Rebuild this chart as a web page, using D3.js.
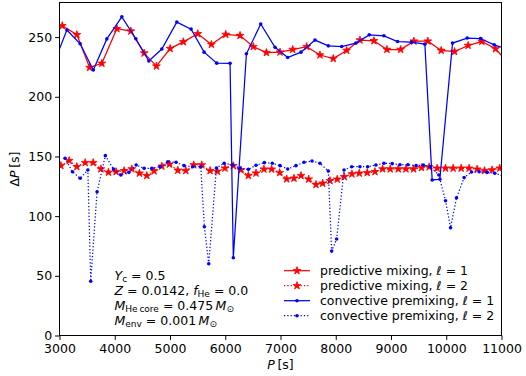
<!DOCTYPE html>
<html>
<head>
<meta charset="UTF-8">
<title>Period spacing</title>
<script src="https://cdn.jsdelivr.net/npm/d3@7"></script>
<style>
    body { margin: 0; background: #fff; }
    svg text { font-family: "DejaVu Sans", sans-serif; fill: #000; }
    .axis text { font-size: 12.5px; }
    .axis line { stroke: #000; stroke-width: 1px; }
</style>
</head>
<body>
<svg id="chart" width="526" height="376"></svg>
<script>
// predictive mixing, l = 1
const predP1 = [3050, 3315, 3545, 3767, 4038, 4291, 4532, 4754, 5002, 5242, 5503, 5749, 6009, 6268, 6508, 6745, 6991, 7221, 7474, 7714, 7955, 8197, 8438, 8691, 8926, 9174, 9414, 9667, 9908, 10150, 10396, 10644, 10892, 11130];
const predDP1 = [259.5, 252, 224.5, 228, 257, 255, 236.6, 225.7, 240.4, 246, 252.8, 243.8, 252.2, 251.3, 242, 237, 237.4, 239.6, 242, 235, 232, 238.8, 247.5, 246.9, 239.6, 239.6, 246.6, 246.6, 238.8, 237.9, 243, 246.3, 240.2, 228];

// predictive mixing, l = 2
const predP2 = [3025, 3175, 3314, 3465, 3610, 3749, 3886, 4025, 4170, 4309, 4447, 4580, 4712, 4852, 4989, 5141, 5286, 5430, 5575, 5725, 5857, 5996, 6146, 6283, 6418, 6557, 6700, 6840, 6985, 7112, 7244, 7371, 7510, 7642, 7763, 7895, 8027, 8154, 8293, 8425, 8570, 8709, 8848, 8986, 9131, 9270, 9409, 9553, 9691, 9836, 9987, 10125, 10270, 10414, 10559, 10692, 10830, 10969];
const predDP2 = [142.3, 146.5, 141.4, 144.8, 144.8, 139.5, 136.7, 137.2, 138, 139.5, 135.9, 133.9, 137.8, 141.8, 143.5, 138.4, 138.1, 142.9, 142.9, 138.1, 137.5, 140.2, 142.2, 138.7, 134, 136, 139.3, 139.3, 136.4, 131.1, 131.7, 133.9, 130.9, 126.4, 127.5, 129.7, 130.9, 133, 135.3, 135.9, 136.4, 137.2, 139.5, 139.5, 139.5, 139.5, 139.5, 140.6, 141.2, 140.1, 140.1, 140.1, 140.1, 140.1, 139.3, 138.1, 138.7, 140.1];

// convective premixing, l = 1
const convP1 = [2880, 3134, 3374, 3612, 3857, 4128, 4382, 4617, 4852, 5123, 5382, 5617, 5846, 6087, 6146, 6383, 6642, 6901, 7130, 7371, 7624, 7865, 8107, 8365, 8606, 8872, 9119, 9372, 9613, 9745, 9884, 10114, 10378, 10620, 10866, 11110];
const convDP1 = [226, 256, 244.4, 222.5, 248.5, 267, 248.6, 230, 240, 262.6, 256.7, 237.4, 228.2, 228, 65.1, 236, 261, 241.5, 232.9, 237.4, 247.5, 242.7, 242.1, 245, 251.9, 251.1, 246.3, 245.8, 244.1, 130.3, 130.9, 245, 249.2, 248.8, 243.5, 240];

// convective premixing, l = 2
const convP2 = [3100, 3235, 3374, 3513, 3565, 3680, 3830, 3977, 4110, 4255, 4387, 4532, 4671, 4821, 4960, 5110, 5255, 5412, 5557, 5622, 5701, 5840, 5980, 6136, 6268, 6418, 6557, 6708, 6852, 6991, 7130, 7280, 7425, 7570, 7714, 7865, 7926, 8016, 8150, 8288, 8438, 8577, 8727, 8872, 9022, 9161, 9306, 9455, 9585, 9710, 9866, 9987, 10078, 10186, 10324, 10457, 10595, 10740, 10879, 11018];
const convDP2 = [148.5, 137.2, 131.7, 138.7, 45.5, 120.5, 150.7, 139.4, 134.5, 136.7, 142.9, 140.1, 140.1, 141.4, 145.6, 145.1, 142.3, 141.4, 141.4, 91.1, 60.1, 140.4, 144.3, 142.9, 140.1, 139.2, 142.6, 144.8, 144.3, 142.3, 139.5, 142.3, 145.1, 146.2, 144.3, 137.8, 70.7, 80.8, 138.7, 141.4, 141.4, 141.4, 142.9, 144.3, 144, 143.1, 143.1, 142.3, 142.9, 141.4, 134.5, 112.9, 90.3, 115.4, 132.3, 137, 137.2, 136.7, 135.9, 134];

const xTicks = [3000, 4000, 5000, 6000, 7000, 8000, 9000, 10000, 11000];
const yTicks = [0, 50, 100, 150, 200, 250];
const seriesNames = ["predictive mixing", "predictive mixing", "convective premixing", "convective premixing"];
const seriesEll = [1, 2, 1, 2];

// Series in drawing order (blue is on top of red)
const series = [
    { P: predP1, dP: predDP1, color: "#ff0000", dotted: false, marker: "star" },
    { P: predP2, dP: predDP2, color: "#ff0000", dotted: true, marker: "star" },
    { P: convP1, dP: convDP1, color: "#0000ff", dotted: false, marker: "dot" },
    { P: convP2, dP: convDP2, color: "#0000ff", dotted: true, marker: "dot" }
].map((s, i) => ({ ...s, name: seriesNames[i], ell: seriesEll[i] }));

const svg = d3.select("#chart");
const plot = { left: 59.5, right: 501.5, top: 2.5, bottom: 335.5 };

const x = d3.scaleLinear().domain([3000, 11000]).range([plot.left, plot.right]);
const y = d3.scaleLinear().domain([0, 279]).range([plot.bottom, plot.top]);

svg.append("defs").append("clipPath").attr("id", "clip")
    .append("rect")
    .attr("x", plot.left).attr("y", plot.top)
    .attr("width", plot.right - plot.left).attr("height", plot.bottom - plot.top);

const starPath = d3.symbol(d3.symbolStar, 19)();
const lineGen = d3.line().x(d => x(d[0])).y(d => y(d[1]));

function drawMarker(sel, s) {
    if (s.marker === "star") {
        sel.append("path").attr("d", starPath)
            .attr("fill", s.color).attr("stroke", s.color).attr("stroke-width", 0.8)
            .attr("stroke-linejoin", "miter");
    } else {
        sel.append("circle").attr("r", 1.8).attr("fill", s.color);
    }
}

const dataG = svg.append("g").attr("clip-path", "url(#clip)");
series.forEach(s => {
    const pts = s.P.map((p, i) => [p, s.dP[i]]);
    dataG.append("path")
        .attr("d", lineGen(pts))
        .attr("fill", "none")
        .attr("stroke", s.color)
        .attr("stroke-width", 1.25)
        .attr("stroke-dasharray", s.dotted ? "1.25,2.06" : null);
    dataG.append("g").selectAll("g")
        .data(pts)
        .join("g")
        .attr("transform", d => `translate(${x(d[0])},${y(d[1])})`)
        .each(function () { drawMarker(d3.select(this), s); });
});

// Axes
svg.append("g").attr("class", "axis")
    .attr("transform", `translate(0,${plot.bottom})`)
    .call(d3.axisBottom(x).tickValues(xTicks).tickFormat(d3.format("d")).tickSize(4.4).tickPadding(4));
svg.append("g").attr("class", "axis")
    .attr("transform", `translate(${plot.left},0)`)
    .call(d3.axisLeft(y).tickValues(yTicks).tickFormat(d3.format("d")).tickSize(4.4).tickPadding(3));
svg.selectAll(".axis .domain").remove();
svg.selectAll(".axis text").attr("font-family", null).attr("font-size", null);

svg.append("rect")
    .attr("x", plot.left).attr("y", plot.top)
    .attr("width", plot.right - plot.left).attr("height", plot.bottom - plot.top)
    .attr("fill", "none").attr("stroke", "#000").attr("stroke-width", 1);

// Axis labels
const xl = svg.append("text").attr("x", (plot.left + plot.right) / 2).attr("y", 369)
    .attr("text-anchor", "middle").attr("font-size", 12.5);
xl.append("tspan").attr("font-style", "italic").text("P");
xl.append("tspan").text("\u2009[s]");

const yl = svg.append("text")
    .attr("transform", `translate(19,${(plot.top + plot.bottom) / 2}) rotate(-90)`)
    .attr("text-anchor", "middle").attr("font-size", 12.5);
yl.append("tspan").text("\u0394");
yl.append("tspan").attr("font-style", "italic").text("P");
yl.append("tspan").text("\u2009[s]");

// Parameter annotation
const note = svg.append("g").attr("font-size", 12.5);
function noteLine(yPos, parts) {
    const t = note.append("text").attr("x", 114.5).attr("y", yPos);
    parts.forEach(p => {
        const ts = t.append("tspan").text(p.t);
        if (p.i) ts.attr("font-style", "italic");
        if (p.sub) ts.attr("font-size", 9).attr("dy", 2.5);
        if (p.up) ts.attr("dy", -2.5);
    });
}
noteLine(279.5, [{ t: "Y", i: true }, { t: "c", sub: true }, { t: " = 0.5", up: true }]);
noteLine(294.5, [{ t: "Z", i: true }, { t: " = 0.0142, " }, { t: "f", i: true }, { t: "He", sub: true }, { t: " = 0.0", up: true }]);
noteLine(309.5, [{ t: "M", i: true }, { t: "He\u2009core", sub: true }, { t: " = 0.475\u2009", up: true }, { t: "M", i: true }, { t: "\u2299", sub: true }]);
noteLine(324.5, [{ t: "M", i: true }, { t: "env", sub: true }, { t: " = 0.001\u2009", up: true }, { t: "M", i: true }, { t: "\u2299", sub: true }]);

// Legend
const legend = svg.append("g").attr("font-size", 12.5);
series.forEach((s, i) => {
    const cy = 270.7 + i * 15;
    const row = legend.append("g");
    row.append("line")
        .attr("x1", 284).attr("x2", 310).attr("y1", cy).attr("y2", cy)
        .attr("stroke", s.color).attr("stroke-width", 1.25)
        .attr("stroke-dasharray", s.dotted ? "1.25,2.06" : null);
    drawMarker(row.append("g").attr("transform", `translate(297,${cy})`), s);
    const t = row.append("text").attr("x", 320).attr("y", cy + 4.5);
    t.append("tspan").text(s.name + ", ");
    t.append("tspan").attr("font-style", "italic").text("\u2113");
    t.append("tspan").text(" = " + s.ell);
});
</script>
</body>
</html>
